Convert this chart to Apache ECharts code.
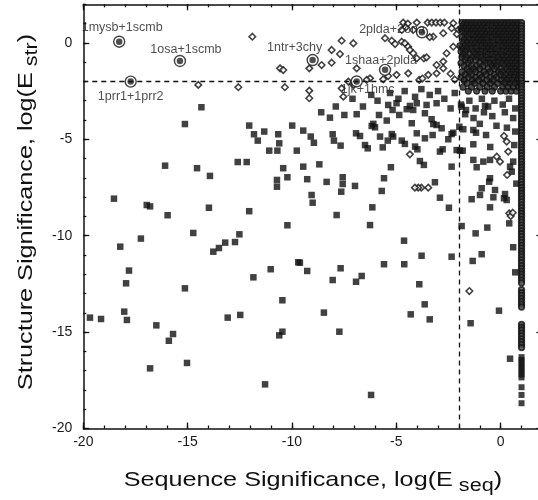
<!DOCTYPE html>
<html><head><meta charset="utf-8">
<script src="https://cdn.jsdelivr.net/npm/echarts@6/dist/echarts.min.js"></script>
<style>html,body{margin:0;padding:0;background:#fff;overflow:hidden}#c{width:543px;height:500px}</style>
</head><body><div id="c"></div>
<script>
// ---------- DATA ----------
const xTickLabels = [-20, -15, -10, -5, 0];
const yTickLabels = [-20, -15, -10, -5, 0];
const xTitle = ['Sequence Significance, log(E', 'seq', ')'];
const yTitle = ['Structure Significance, log(E', 'str', ')'];
const cutoffSeq = -2;
const cutoffStr = -2;

const squares = [
[-14.34,-3.34],[-15.13,-4.21],[-12.05,-4.29],[-9.99,-4.29],[-11.82,-4.74],[-11.33,-4.6],[-10.66,-4.74],[-11.64,-5.07],[-10.61,-5.21],[-11.09,-5.59],[-10.7,-5.59],[-9.77,-5.59],[-12.6,-6.18],[-12.17,-6.18],[-16.08,-6.37],[-14.55,-6.5],[-13.93,-6.9],[-10.42,-6.5],[-10.72,-7.11],[-10.22,-6.97],[-10.72,-7.46],[-18.53,-8.08],[-16.96,-8.41],[-16.8,-8.48],[-13.98,-8.55],[-15.96,-8.94],[-12.05,-8.73],[-10.22,-9.46],[-14.73,-9.86],[-12.52,-9.93],[-12.73,-10.33],[-13.2,-10.36],[-13.5,-10.64],[-13.77,-10.83],[-17.24,-10.15],[-18.23,-10.57],[-17.81,-11.81],[-17.95,-12.47],[-15.13,-12.73],[-11.85,-12.16],[-11.02,-11.74],[-9.7,-11.38],[-10.46,-13.35],
[-19.68,-14.25],[-19.15,-14.32],[-18.04,-13.94],[-17.91,-14.37],[-16.5,-14.65],[-15.7,-15.1],[-15.9,-15.45],[-16.8,-16.88],[-15.03,-16.6],[-13.08,-14.25],[-12.48,-14.11],[-10.46,-14.98],[-10.61,-15.17],[-11.29,-17.71],
[-8.18,-3.88],[-7.49,-3.74],[-9.46,-4.55],[-9.1,-4.86],[-8.95,-5.18],[-8.05,-4.74],[-7.99,-5.07],[-7.67,-5.33],[-6.93,-4.69],[-6.74,-4.83],[-6.5,-5.3],[-6.37,-5.47],[-6.18,-4.31],[-6.02,-4.38],[-6.1,-4.2],[-5.78,-4.86],[-5.65,-5.42],[-5.41,-5.07],[-5.22,-4.73],[-5.15,-4.86],[-5.83,-3.74],[-5.46,-4.03],[-5.39,-3.22],[-4.99,-3.13],[-4.86,-3.74],[-5.18,-3.48],[-4.74,-5.07],[-4.59,-5.24],[-4.35,-3.27],[-4.5,-3.44],[-4.19,-3.48],[-4.02,-3.13],[-4.26,-4.17],[-4.02,-4.69],[-4.1,-5.38],[-3.99,-5.52],[-3.63,-4.95],[-3.55,-3.22],[-3.63,-3.65],[-3.31,-3.96],[-3.23,-4.21],[-3.26,-4.78],[-3.07,-4.26],[-2.83,-4.43],[-3.07,-3.13],[-2.91,-5.64],[-2.78,-5.52],[-2.51,-5.0],[-2.35,-4.73],[-2.27,-4.66],[-2.11,-5.56],[-1.95,-5.59],[-1.82,-5.59],[-1.98,-4.35],[-1.79,-4.48],[-1.87,-3.31],[-1.66,-3.48],[-1.31,-4.52],[-1.18,-4.66],[-1.31,-5.26],[-0.7,-4.78],[-0.75,-3.27],[-1.31,-6.07],[-1.15,-6.45],[-0.83,-6.16],[-0.51,-6.07],[0.45,-6.42],[0.53,-6.68],[0.6,-6.16],
[-0.51,-7.02],[-0.55,-7.2],[-0.91,-7.54],[-0.27,-7.63],[-0.99,-7.89],[-0.35,-8.01],[0.21,-7.84],[0.16,-8.06],[0.29,-8.15],[-1.39,-8.11],[-0.51,-8.53],[0.41,-9.36],[-0.64,-9.58],[-1.87,-9.5],[-1.2,-9.88],[-2.48,-8.55],[-2.91,-8.03],[-3.15,-7.23],[-2.35,-6.42],[-2.35,-11.09],[-0.91,-10.96],[-1.34,-11.31],[-3.79,-11.04],[-3.9,-12.52],[-4.63,-10.26],[-4.62,-11.48],[-5.59,-11.48],[-6.26,-9.45],[-6.15,-8.53],[-5.7,-7.68],[-5.59,-7.02],[-5.26,-6.45],[-3.87,-6.13],[-3.68,-6.33],[-6.98,-7.42],[-7.57,-6.97],[-7.57,-7.32],[-7.64,-7.72],[-8.34,-7.21],[-8.69,-6.3],[-9.46,-6.42],[-9.27,-7.07],[-9.06,-7.89],[-9.01,-8.29],[-7.86,-8.93],[-7.67,-11.69],[-8.05,-12.3],[-6.93,-12.39],[-6.66,-12.09],[-9.27,-11.83],[-9.62,-11.4],
[-8.47,-13.99],[-7.73,-14.98],[-3.64,-13.56],[-4.31,-14.08],[-3.4,-14.34],[-6.21,-18.26],[-1.44,-14.54],[-0.08,-13.89],[0.45,-16.38],
[-7.1,-2.9],[-6.6,-3.3],[-6.2,-2.7],[-5.9,-3.0],[-5.3,-2.6],[-4.9,-2.9],[-4.6,-2.5],[-4.1,-2.8],[-3.8,-2.4],[-3.4,-2.7],[-3.0,-2.5],[-2.7,-2.9],[-2.4,-3.4],[-2.2,-2.6],[-7.9,-3.3],[-8.6,-3.6],[-6.9,-3.7],
[-1.9,-3.2],[-1.5,-3.0],[-1.2,-3.4],[-0.9,-2.9],[-0.6,-3.3],[-0.3,-3.0],[0.1,-3.2],[0.4,-2.9],[0.7,-3.4],[-1.7,-3.7],[-1.3,-3.9],[-0.8,-3.6],[-0.4,-3.8],[0.2,-3.6],[0.6,-3.9],[-1.0,-4.2],[-0.2,-4.3],[0.3,-4.4],[0.7,-4.6],[-0.5,-5.4],[0.65,-5.3],[0.75,-7.3],[0.6,-10.6],[0.7,-11.9]
];

const diamonds = [
[-11.9,0.32],[-14.49,-2.18],[-12.57,-2.3],
[-4.67,1.05],[-4.45,1.0],[-4.55,0.8],[-4.02,1.05],[-3.5,1.05],[-3.3,1.05],[-3.1,1.05],[-2.9,1.05],[-2.7,1.05],[-2.27,1.02],[-2.35,0.76],[-2.75,0.5],[-3.23,0.32],[-3.4,0.3],[-4.19,0.67],[-4.74,0.67],[-5.54,0.24],[-5.22,0.11],[-5.06,-0.06],[-4.74,0.06],[-4.59,-0.02],[-4.43,-0.2],[-4.35,-0.37],[-4.19,-0.54],[-4.02,-0.8],[-3.68,-0.8],[-3.55,-0.75],[-3.07,-1.15],[-2.75,-0.97],[-2.75,-1.32],[-3.07,-1.58],[-3.47,-1.66],[-3.9,-1.92],[-3.75,-1.85],[-4.43,-1.58],[-4.99,-1.66],[-5.39,-1.72],[-5.63,-1.89],[-6.26,-1.84],[-6.42,-1.92],[-6.9,-1.32],[-7.3,-2.01],[-7.54,-2.79],[-7.06,-0.02],[-7.62,0.11],[-8.1,-0.37],[-7.7,-0.58],[-8.1,-1.03],[-8.58,-1.15],[-9.17,-1.32],[-10.57,-1.32],[-10.42,-1.41],[-10.34,-2.3],[-9.17,-2.48],[-9.17,-2.87],[-2.03,0.67],[-2.1,0.45],[-2.27,-0.2],[-2.59,-0.54],[-2.4,-1.6],[-2.2,-1.9],[-7.62,-2.36],[-7.06,-2.18],
[0.16,-4.83],[0.29,-5.12],[0.36,-5.64],[-0.19,-5.9],[-0.03,-6.16],[0.31,-6.85],[0.41,-8.84],[0.48,-8.98],[0.58,-8.81],[-1.5,-12.87],[-3.47,-7.51],[-3.8,-7.51],[-3.95,-7.51],[-4.11,-7.51],[-4.35,-5.78]
];

// dense cluster in the upper-right corner: [y, [x values]]
const clusterRows = [
[1.05,[-1.85,-1.7,-1.55,-1.4,-1.25,-1.1,-0.95,-0.8,-0.65,-0.5,-0.35,-0.2,-0.05,0.1,0.25,0.4,0.55,0.7,0.85]],
[0.9, [-1.8,-1.6,-1.4,-1.2,-1.0,-0.8,-0.6,-0.4,-0.2,0,0.2,0.4,0.6,0.8]],
[0.75,[-1.9,-1.7,-1.5,-1.3,-1.1,-0.9,-0.7,-0.3,-0.1,0.1,0.3,0.5,0.7,0.9]],
[0.6, [-1.8,-1.6,-1.4,-1.2,-1.0,-0.8,-0.6,-0.4,-0.2,0,0.2,0.4,0.6,0.8]],
[0.45,[-1.7,-1.5,-1.3,-1.1,-0.9,-0.7,-0.5,-0.3,-0.1,0.1,0.3,0.5,0.7,0.9]],
[0.3, [-1.85,-1.6,-1.2,-1.0,-0.8,-0.6,-0.4,-0.2,0,0.2,0.4,0.6,0.8]],
[0.15,[-1.75,-1.5,-1.3,-1.1,-0.9,-0.7,-0.3,-0.1,0.1,0.3,0.5,0.7,0.9]],
[0.0, [-1.8,-1.6,-1.4,-1.2,-1.0,-0.8,-0.6,-0.4,0,0.2,0.4,0.6,0.8]],
[-0.15,[-1.95,-1.7,-1.5,-1.1,-0.9,-0.7,-0.5,-0.3,-0.1,0.1,0.3,0.5,0.7,0.9]],
[-0.3,[-1.8,-1.6,-1.4,-1.2,-0.8,-0.6,-0.4,-0.2,0.2,0.4,0.6,0.8]],
[-0.45,[-1.9,-1.7,-1.3,-1.1,-0.9,-0.7,-0.5,-0.1,0.1,0.3,0.5,0.7,0.9]],
[-0.6,[-1.8,-1.5,-1.2,-1.0,-0.6,-0.4,-0.2,0,0.4,0.6,0.8]],
[-0.75,[-1.85,-1.65,-1.35,-1.1,-0.9,-0.7,-0.3,-0.1,0.1,0.3,0.5,0.7,0.9]],
[-0.9,[-1.7,-1.45,-1.2,-0.8,-0.6,-0.4,0.0,0.2,0.4,0.6,0.8]],
[-1.05,[-1.9,-1.55,-1.0,-0.7,-0.5,-0.3,-0.1,0.1,0.3,0.5,0.7,0.9]],
[-1.2,[-1.75,-1.4,-1.15,-0.85,-0.4,-0.2,0.2,0.4,0.6,0.8]],
[-1.35,[-1.6,-1.3,-1.0,-0.6,-0.3,0.0,0.3,0.5,0.7,0.9]],
[-1.5,[-1.85,-1.5,-1.2,-0.8,-0.5,-0.1,0.1,0.4,0.6,0.8]],
[-1.65,[-1.7,-1.4,-1.0,-0.7,-0.3,0.0,0.25,0.5,0.7,0.9]],
[-1.8,[-1.9,-1.55,-1.2,-0.9,-0.5,-0.2,0.15,0.4,0.65,0.85]],
[-1.95,[-1.75,-1.35,-1.05,-0.65,-0.35,0.05,0.3,0.55,0.8]],
[-2.1,[-1.6,-1.25,-0.85,-0.5,-0.15,0.2,0.45,0.7,0.9]],
[-2.3,[-1.8,-1.4,-1.0,-0.65,-0.3,0.1,0.35,0.6,0.85]],
[-2.5,[-1.55,-1.15,-0.75,-0.4,0.0,0.25,0.5,0.75]]
];

// capped column at log(E_seq) = 1
const columnX = 1.0;
const columnCircleY = [1.05,0.9,0.75,0.6,0.45,0.3,0.15,0,-0.15,-0.3,-0.45,-0.6,-0.75,-0.9,-1.05,-1.2,-1.35,-1.5,-1.65,-1.8,-1.95,-2.1,-2.25,-2.4,-2.55,-2.7,-2.85,-3,-3.15,-3.3,-3.45,-3.6,-3.75,-3.9,-4.05,-4.2,-4.35,-4.5,-4.65,-4.8,-4.95,-5.1,-5.25,-5.4,-5.55,-5.7,-5.85,-6,-6.15,-6.3,-6.45,-6.6,-6.75,-6.9,-7.05,-7.2,-7.35,-7.5,-7.65,-7.8,-7.95,-8.1,-8.25,-8.4,-8.55,-8.7,-8.85,-9,-9.15,-9.3,-9.45,-9.6,-9.75,-9.9,-10.05,-10.2,-10.35,-10.5,-10.65,-10.8,-10.95,-11.1,-11.25,-11.4,-11.55,-11.7,-11.85,-12,-12.15,-12.3,-12.45,
  -12.8,-12.95,-13.1,-13.25,-13.4,-13.55,-13.7,-14.6,-14.75,-14.9,-15.05,-15.2,-15.35,-15.5,-15.65,-15.8];
const columnSquareY = [-16.3,-16.45,-16.6,-16.75,-16.9,-17.05,-17.2,-17.35,-17.86,-18.26,-18.69];

const highlightNames = ['1mysb+1scmb','1osa+1scmb','1prr1+1prr2','1ntr+3chy','2plda+2ona','1shaa+2plda','1jk+1hmc'];
const highlightPts = [[-18.28,0.06],[-15.37,-0.94],[-17.73,-2.01],[-9.01,-0.89],[-3.77,0.55],[-5.54,-1.4],[-6.9,-2.0]];

// ---------- STYLE / LAYOUT (not data) ----------
const labelOffsets = [[3,-14],[6,-11],[0,15],[-18,-12],[-30,-3],[-4,-9],[11,8.5]];
const FONT = 'Liberation Sans, Arial, Helvetica, sans-serif';
const GRID = {left:83.3, top:4.3, right:0.6, bottom:71.5};

const clusterPts = [];
clusterRows.forEach(r => r[1].forEach(x => clusterPts.push([x, r[0]])));
const colCircles = columnCircleY.map(y => [columnX, y]);
const colSquares = columnSquareY.map(y => [columnX, y]);

const chart = echarts.init(document.getElementById('c'), null, {renderer:'canvas'});

function axis(pos, interval, tickLen, opts) {
  return Object.assign({
    type:'value', min:-20, max:2, position:pos, interval:interval,
    axisLine:{show: interval === 5, onZero:false, lineStyle:{color:'#111', width:1.5}},
    axisTick:{show:true, inside:true, length:tickLen, lineStyle:{color:'#111', width:1.3}},
    axisLabel:{show:false},
    splitLine:{show:false}
  }, opts || {});
}
const tickLabel = (labels, margin) => ({show:true, margin:margin, color:'#1a1a1a', fontSize:14, fontFamily:FONT,
  showMaxLabel:false, formatter: v => labels.indexOf(v) >= 0 ? String(v) : ''});

const titleRich = {
  a:{fontSize:21, fontFamily:FONT, fill:'#111', color:'#111'},
  b:{fontSize:18, fontFamily:FONT, fill:'#111', color:'#111', padding:[13,0,0,5]}
};
const plotW = 543 - GRID.left - GRID.right;
const plotH = 500 - GRID.top - GRID.bottom;

chart.setOption({
  animation:false,
  backgroundColor:'#fff',
  grid:Object.assign({containLabel:false}, GRID),
  xAxis:[
    axis('bottom',5,6,{axisLabel:tickLabel(xTickLabels,7)}),
    axis('top',5,6), axis('bottom',1,3), axis('top',1,3)
  ],
  yAxis:[
    axis('left',5,6,{axisLabel:tickLabel(yTickLabels,11)}),
    axis('right',5,6), axis('left',1,3), axis('right',1,3)
  ],
  graphic:[
    {type:'text', x:GRID.left + plotW/2, y:480, scaleX:1.2, silent:true,
     style:{text:'{a|'+xTitle[0]+'}{b|'+xTitle[1]+'}{a|'+xTitle[2]+'}', rich:titleRich,
       align:'center', verticalAlign:'middle', textAlign:'center', textVerticalAlign:'middle'}},
    {type:'text', x:26, y:212, rotation:Math.PI/2, scaleX:1.2, silent:true,
     style:{text:'{a|'+yTitle[0]+'}{b|'+yTitle[1]+'}{a|'+yTitle[2]+'}', rich:titleRich,
       align:'center', verticalAlign:'middle', textAlign:'center', textVerticalAlign:'middle'}}
  ],
  series:[
    {type:'scatter', name:'squares', data:squares, symbol:'rect', symbolSize:6.5,
     itemStyle:{color:'#111'}, silent:true,
     markLine:{silent:true, symbol:'none', label:{show:false},
       lineStyle:{color:'#111', type:[5,4], width:1.3},
       data:[{xAxis:cutoffSeq},{yAxis:cutoffStr}]}},
    {type:'scatter', name:'diamonds', data:diamonds, symbol:'diamond', symbolSize:6.5,
     itemStyle:{color:'#fff', borderColor:'#111', borderWidth:1.6}, silent:true},
    {type:'scatter', name:'cluster', data:clusterPts, symbol:'circle', symbolSize:6,
     itemStyle:{color:'#222', borderColor:'#111', borderWidth:1.2}, silent:true},
    {type:'scatter', name:'colSquares', data:colSquares, symbol:'rect', symbolSize:6,
     itemStyle:{color:'#111'}, silent:true},
    {type:'scatter', name:'colCircles', data:colCircles, symbol:'circle', symbolSize:5.5,
     itemStyle:{color:'#555', borderColor:'#111', borderWidth:1.8}, silent:true},
    {type:'scatter', name:'highlightRing', data:highlightPts.map((p,i)=>({value:p, name:highlightNames[i],
        label:{offset:labelOffsets[i]}})),
     symbol:'circle', symbolSize:11, itemStyle:{color:'#fff', borderColor:'#111', borderWidth:1.4}, silent:true,
     label:{show:true, position:'inside', formatter:p=>p.name, color:'#222', fontSize:12.5, fontFamily:FONT}},
    {type:'scatter', name:'highlightDot', data:highlightPts, symbol:'circle', symbolSize:6.5,
     itemStyle:{color:'#222'}, silent:true}
  ]
});
</script></body></html>
